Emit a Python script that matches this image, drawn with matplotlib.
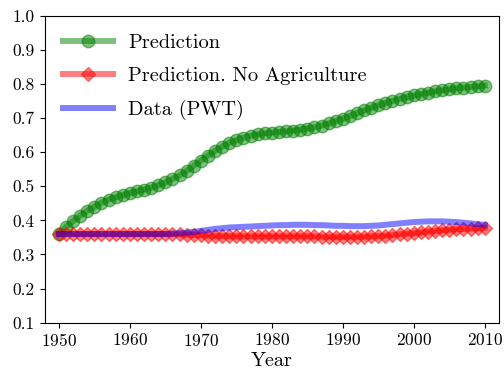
import matplotlib
matplotlib.use("Agg")
import matplotlib.pyplot as plt
import numpy as np

plt.rcParams['font.family'] = 'cmr10'
plt.rcParams['mathtext.fontset'] = 'cm'
plt.rcParams['axes.unicode_minus'] = False
plt.rcParams['axes.formatter.use_mathtext'] = True

years = list(range(1950, 2011))

prediction = [0.360, 0.381, 0.398, 0.414, 0.428, 0.440, 0.452, 0.461, 0.468, 0.474,
              0.480, 0.485, 0.490, 0.496, 0.503, 0.511, 0.521, 0.532, 0.545, 0.560,
              0.575, 0.590, 0.604, 0.616, 0.627, 0.635, 0.642, 0.648, 0.652, 0.655,
              0.657, 0.659, 0.661, 0.663, 0.666, 0.669, 0.673, 0.678, 0.684, 0.691,
              0.698, 0.706, 0.714, 0.722, 0.730, 0.737, 0.744, 0.750, 0.756, 0.761,
              0.766, 0.770, 0.774, 0.778, 0.781, 0.784, 0.787, 0.789, 0.791, 0.793,
              0.795]

no_agri = [0.360, 0.360, 0.360, 0.360, 0.360, 0.360, 0.360, 0.360, 0.360, 0.360,
           0.360, 0.360, 0.360, 0.360, 0.360, 0.360, 0.359, 0.359, 0.358, 0.357,
           0.356, 0.355, 0.355, 0.354, 0.354, 0.353, 0.353, 0.353, 0.353, 0.353,
           0.353, 0.353, 0.353, 0.353, 0.353, 0.353, 0.353, 0.352, 0.352, 0.352,
           0.352, 0.352, 0.352, 0.352, 0.353, 0.354, 0.355, 0.357, 0.359, 0.361,
           0.363, 0.365, 0.367, 0.369, 0.371, 0.372, 0.374, 0.375, 0.376, 0.377,
           0.378]

data_pwt = [0.360, 0.360, 0.360, 0.360, 0.360, 0.360, 0.360, 0.360, 0.360, 0.360,
            0.360, 0.360, 0.360, 0.360, 0.360, 0.360, 0.361, 0.362, 0.364, 0.366,
            0.369, 0.372, 0.375, 0.377, 0.379, 0.380, 0.381, 0.382, 0.383, 0.384,
            0.385, 0.386, 0.386, 0.387, 0.387, 0.387, 0.386, 0.386, 0.385, 0.384,
            0.384, 0.383, 0.383, 0.383, 0.384, 0.385, 0.387, 0.389, 0.391, 0.393,
            0.395, 0.396, 0.397, 0.397, 0.397, 0.396, 0.395, 0.393, 0.391, 0.389,
            0.386]

fig = plt.figure(figsize=(5.04, 3.73), dpi=100)
ax = fig.add_axes([0.0887, 0.1349, 0.9013, 0.8231])

ax.plot(years, prediction, 'o-', color='green', alpha=0.5, lw=4.3, ms=9, label='Prediction')
ax.plot(years, no_agri, 'D-', color='red', alpha=0.5, lw=4.3, ms=7, label='Prediction. No Agriculture')
ax.plot(years, data_pwt, '-', color='blue', alpha=0.5, lw=4.3, label='Data (PWT)')

ax.set_xlim(1948, 2012)
ax.set_ylim(0.1, 1.0)
ax.set_xticks([1950, 1960, 1970, 1980, 1990, 2000, 2010])
ax.set_yticks(np.arange(0.1, 1.01, 0.1))
ax.set_yticklabels(['0.1', '0.2', '0.3', '0.4', '0.5', '0.6', '0.7', '0.8', '0.9', '1.0'])
ax.tick_params(labelsize=12.5)
ax.set_xlabel('Year', fontsize=14.5, labelpad=2)
ax.legend(loc='upper left', frameon=False, fontsize=14.7, handlelength=2.45,
          handletextpad=0.75, labelspacing=0.72)

fig.savefig('out.png', dpi=100)
